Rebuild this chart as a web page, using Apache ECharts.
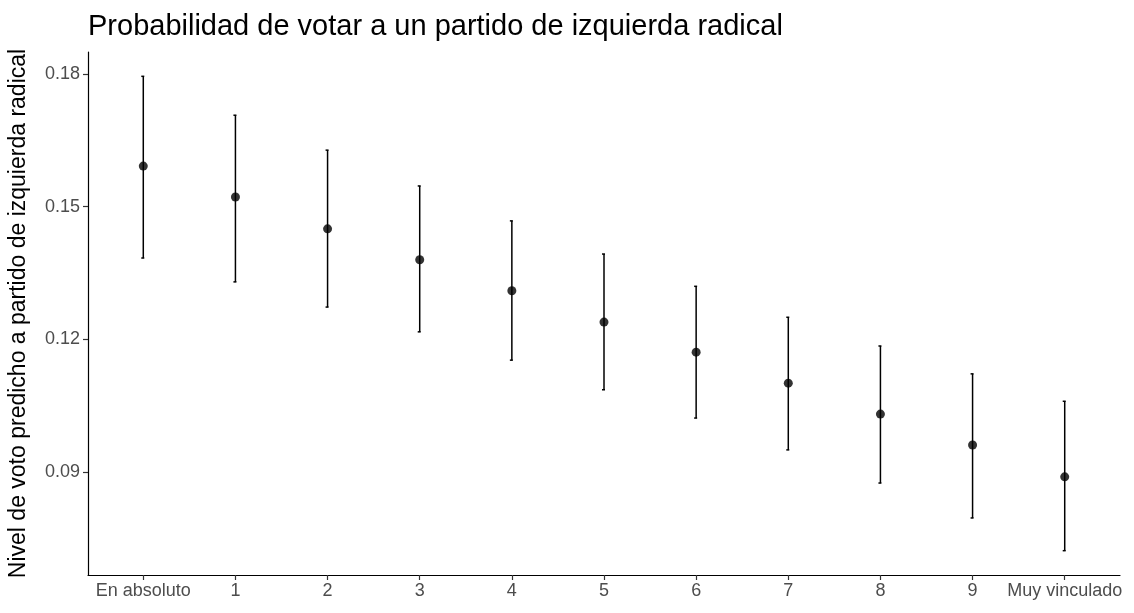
<!DOCTYPE html>
<html><head><meta charset="utf-8">
<script src="https://cdn.jsdelivr.net/npm/echarts@6/dist/echarts.min.js"></script>
<style>html,body{margin:0;padding:0;background:#fff}#c{width:1134px;height:613px}</style>
</head><body><div id="c"></div>
<script>
const categories = ['En absoluto','1','2','3','4','5','6','7','8','9','Muy vinculado'];
const estimates = [0.1592,0.1522,0.1450,0.1380,0.1310,0.1239,0.1171,0.1101,0.1031,0.0961,0.0889];
const lowerCI   = [0.1384,0.1330,0.1273,0.1217,0.1153,0.1086,0.1022,0.0950,0.0875,0.0796,0.0722];
const upperCI   = [0.1795,0.1707,0.1628,0.1547,0.1468,0.1393,0.1320,0.1250,0.1185,0.1122,0.1060];
const yTicks = [0.09,0.12,0.15,0.18];

const font = 'Liberation Sans, Arial, sans-serif';
const chart = echarts.init(document.getElementById('c'));
const xIdx = categories.map((_, i) => i);
chart.setOption({
  animation: false,
  title: {text: 'Probabilidad de votar a un partido de izquierda radical', left: 83, top: 7,
    textStyle: {fontFamily: font, fontSize: 29, fontWeight: 'normal', color: '#000'}},
  grid: {left: 88, right: 14, top: 52, bottom: 38, containLabel: false, outerBoundsMode: 'none'},
  xAxis: {type: 'value', min: -0.6, max: 10.6,
    axisLine: {show: true, onZero: false, lineStyle: {color: '#000', width: 1.2}},
    axisTick: {show: true, customValues: xIdx, length: 5, lineStyle: {color: '#333', width: 1.2}},
    axisLabel: {customValues: xIdx, formatter: v => categories[Math.round(v)], color: '#4d4d4d', fontFamily: font, fontSize: 18, margin: 7},
    splitLine: {show: false}},
  yAxis: {type: 'value', min: 0.0667, max: 0.185,
    name: 'Nivel de voto predicho a partido de izquierda radical', nameLocation: 'middle', nameGap: 58,
    nameTextStyle: {fontFamily: font, fontSize: 23, color: '#000'},
    axisLine: {show: true, onZero: false, lineStyle: {color: '#000', width: 1.2}},
    axisTick: {show: true, customValues: yTicks, length: 5, lineStyle: {color: '#333', width: 1.2}},
    axisLabel: {customValues: yTicks, formatter: v => v.toFixed(2), color: '#4d4d4d', fontFamily: font, fontSize: 18, margin: 8},
    splitLine: {show: false}},
  series: [
    {type: 'custom',
     data: xIdx.map(i => [i, lowerCI[i], upperCI[i]]),
     renderItem: (params, api) => {
       const lo = api.coord([api.value(0), api.value(1)]);
       const hi = api.coord([api.value(0), api.value(2)]);
       const st = {stroke: '#000', lineWidth: 1.5};
       return {type: 'group', children: [
         {type: 'line', shape: {x1: lo[0], y1: lo[1], x2: hi[0], y2: hi[1]}, style: st},
         {type: 'line', shape: {x1: lo[0]-2, y1: lo[1], x2: lo[0]+1, y2: lo[1]}, style: st},
         {type: 'line', shape: {x1: hi[0]-2, y1: hi[1], x2: hi[0]+1, y2: hi[1]}, style: st}
       ]};
     }},
    {type: 'scatter', data: xIdx.map(i => [i, estimates[i]]), symbolSize: 9,
     itemStyle: {color: '#000'}, z: 5}
  ]
});
</script></body></html>
